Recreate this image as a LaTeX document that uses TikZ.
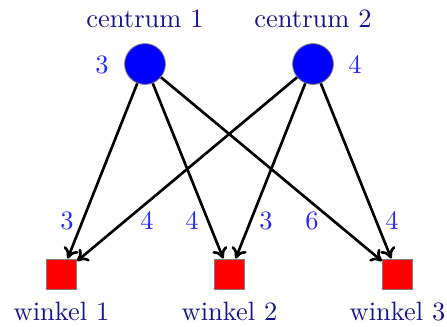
\documentclass[tikz,border=0pt]{standalone}
\usetikzlibrary{arrows.meta}
\definecolor{navy}{rgb}{0.08,0.08,0.52}
\definecolor{numblue}{rgb}{0.15,0.15,0.95}
\begin{document}
\begin{tikzpicture}[x=0.3774pt,y=-0.3774pt,
  centre/.style={circle,fill=blue,draw=gray,line width=0.3pt,minimum size=15.4pt,inner sep=0pt},
  shop/.style={rectangle,fill=red,draw=gray,line width=0.3pt,minimum size=11.4pt,inner sep=0pt},
  titlelbl/.style={text=navy,anchor=base,inner sep=0pt},
  numlbl/.style={text=numblue,inner sep=0pt},
  flow/.style={-{To[length=4pt,width=6pt]},line width=1pt,black}]
\useasboundingbox (0,0) rectangle (447,327);
\node[centre] (c1) at (145,64) {};
\node[centre] (c2) at (313,64) {};
\node[shop] (w1) at (61.5,274) {};
\node[shop] (w2) at (229.5,274) {};
\node[shop] (w3) at (397.5,274) {};
\node[titlelbl] (lc1) at (145,27.5) {centrum 1};
\node[titlelbl] (lc2) at (313,27.5) {centrum 2};
\node[titlelbl] (lw1) at (61.5,320) {winkel 1};
\node[titlelbl] (lw2) at (229.5,320) {winkel 2};
\node[titlelbl] (lw3) at (397.5,320) {winkel 3};
\node[numlbl] (n1) at (102,65) {3};
\node[numlbl] (n2) at (355,65) {4};
\node[numlbl] (e1) at (67,221) {3};
\node[numlbl] (e2) at (147,221) {4};
\node[numlbl] (e3) at (192,221) {4};
\node[numlbl] (e4) at (266,221) {3};
\node[numlbl] (e5) at (312,221) {6};
\node[numlbl] (e6) at (392,221) {4};
\draw[flow] (c1) -- (w1);
\draw[flow] (c1) -- (w2);
\draw[flow] (c1) -- (w3);
\draw[flow] (c2) -- (w1);
\draw[flow] (c2) -- (w2);
\draw[flow] (c2) -- (w3);
\end{tikzpicture}
\end{document}
